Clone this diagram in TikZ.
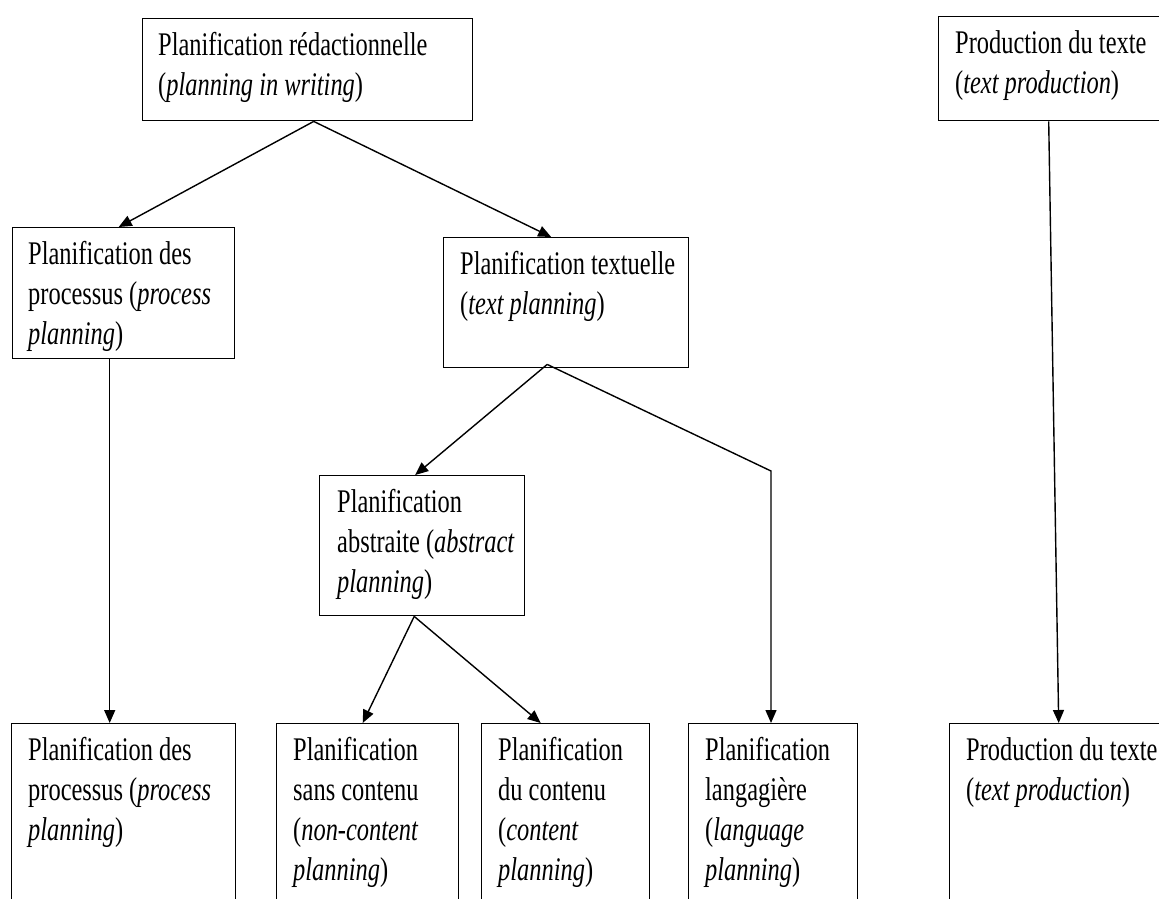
\documentclass[tikz,border=0pt]{standalone}
\usepackage{fontspec}
\setmainfont{Liberation Serif}[FakeStretch=0.74]
\usetikzlibrary{arrows.meta,calc}
\tikzset{
  box/.style={draw, line width=1.4pt, rectangle, inner sep=0pt, anchor=north west},
  txt/.style={inner sep=0pt, anchor=north west, align=left, font=\fontsize{33}{40}\selectfont},
  conn/.style={line width=1.4pt},
  arr/.style={line width=1.4pt, -{Triangle[length=13pt,width=11pt]}}
}
\begin{document}
\begin{tikzpicture}[x=1pt,y=-1pt]
\useasboundingbox (0,0) rectangle (1159,898);
\clip (0,0) rectangle (1159,898);
% boxes
\node[box, minimum width=330pt, minimum height=102pt] (top) at (142,18) {};
\node[box, minimum width=240pt, minimum height=104pt] (prodA) at (938,16) {};
\node[box, minimum width=222pt, minimum height=131pt] (procA) at (12,227) {};
\node[box, minimum width=245pt, minimum height=130pt] (tp) at (443,237) {};
\node[box, minimum width=205pt, minimum height=140pt] (abs) at (319,475) {};
\node[box, minimum width=224pt, minimum height=200pt] (procB) at (11,723) {};
\node[box, minimum width=182pt, minimum height=200pt] (sans) at (276,723) {};
\node[box, minimum width=168pt, minimum height=200pt] (du) at (481,723) {};
\node[box, minimum width=169pt, minimum height=200pt] (lang) at (688,723) {};
\node[box, minimum width=230pt, minimum height=200pt] (prodB) at (949,723) {};
% texts
\node[txt] (top-t) at ([xshift=16pt,yshift=-14pt]top.north west) {Planification rédactionnelle\\(\textit{planning in writing})};
\node[txt] (prodA-t) at ([xshift=17pt,yshift=-14pt]prodA.north west) {Production du texte\\(\textit{text production})};
\node[txt] (procA-t) at ([xshift=16pt,yshift=-14pt]procA.north west) {Planification des\\processus (\textit{process}\\\textit{planning})};
\node[txt] (tp-t) at ([xshift=17pt,yshift=-14pt]tp.north west) {Planification textuelle\\(\textit{text planning})};
\node[txt] (abs-t) at ([xshift=18pt,yshift=-14pt]abs.north west) {Planification\\abstraite (\textit{abstract}\\\textit{planning})};
\node[txt] (procB-t) at ([xshift=17pt,yshift=-14pt]procB.north west) {Planification des\\processus (\textit{process}\\\textit{planning})};
\node[txt] (sans-t) at ([xshift=17pt,yshift=-14pt]sans.north west) {Planification\\sans contenu\\(\textit{non-content}\\\textit{planning})};
\node[txt] (du-t) at ([xshift=17pt,yshift=-14pt]du.north west) {Planification\\du contenu\\(\textit{content}\\\textit{planning})};
\node[txt] (lang-t) at ([xshift=17pt,yshift=-14pt]lang.north west) {Planification\\langagière\\(\textit{language}\\\textit{planning})};
\node[txt] (prodB-t) at ([xshift=17pt,yshift=-14pt]prodB.north west) {Production du texte\\(\textit{text production})};
% connectors
\coordinate (topS) at ([xshift=6pt]top.south);
\draw[arr] (topS) -- ([xshift=-5pt]procA.north);
\draw[arr] (topS) -- ([xshift=-15pt]tp.north);
\draw[arr] ([xshift=-14pt]procA.south) -- ([xshift=-14pt]procB.north);
\coordinate (apex) at ([xshift=-19pt,yshift=4pt]tp.south);
\draw[arr] (apex) -- ([xshift=-7pt]abs.north);
\coordinate (corner) at (771,471);
\draw[arr] (apex) -- (corner) -- (lang.north -| corner);
\coordinate (absS) at ([xshift=-8pt]abs.south);
\draw[arr] (absS) -- ([xshift=-5pt]sans.north);
\draw[arr] (absS) -- ([xshift=-25pt]du.north);
\draw[arr] ([xshift=-10pt]prodA.south) -- ([xshift=-6pt]prodB.north);
\end{tikzpicture}
\end{document}
